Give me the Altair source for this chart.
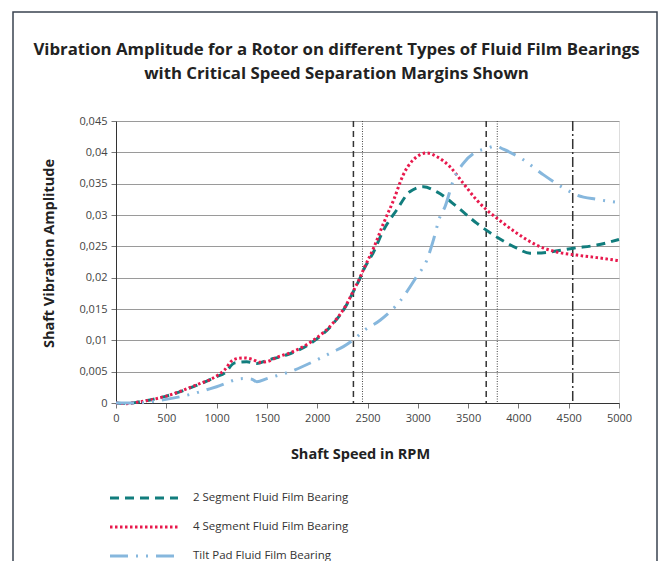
import altair as alt
import pandas as pd

series_names = ["2 Segment  Fluid Film Bearing", "4 Segment Fluid Film Bearing", "Tilt Pad Fluid Film Bearing"]
series_colors = ["#117d7d", "#e8194d", "#86b7dd"]

rpm_2seg = [0, 100, 200, 500, 800, 1000, 1080, 1180, 1300, 1400, 1500, 1700, 1960, 2160, 2290, 2360, 2425, 2460, 2560, 2660, 2790, 2920, 3055, 3190, 3390, 3585, 3785, 3985, 4115, 4315, 4545, 4780, 5000]
amp_2seg = [0, -0.0001, 0.0001, 0.0011, 0.0028, 0.0042, 0.0048, 0.0064, 0.0066, 0.0063, 0.0068, 0.0077, 0.0098, 0.0127, 0.0156, 0.0178, 0.0199, 0.0212, 0.0241, 0.0276, 0.0308, 0.0337, 0.0345, 0.0337, 0.0313, 0.0287, 0.0265, 0.0247, 0.0239, 0.0241, 0.0247, 0.0252, 0.0261]

rpm_4seg = [0, 100, 200, 500, 800, 1000, 1080, 1165, 1265, 1350, 1430, 1500, 1600, 1760, 1960, 2160, 2290, 2360, 2425, 2460, 2560, 2660, 2760, 2855, 2955, 3090, 3190, 3320, 3450, 3585, 3685, 3785, 3985, 4180, 4380, 4580, 4780, 5000]
amp_4seg = [0, -0.0001, 0.0001, 0.0011, 0.0029, 0.0043, 0.0053, 0.0069, 0.0072, 0.0070, 0.0065, 0.0066, 0.0073, 0.0082, 0.0100, 0.0128, 0.0157, 0.0179, 0.0200, 0.0213, 0.0247, 0.0287, 0.0324, 0.0364, 0.0388, 0.0399, 0.0393, 0.0377, 0.0351, 0.0324, 0.0308, 0.0295, 0.0271, 0.0252, 0.0241, 0.0236, 0.0232, 0.0227]

rpm_tilt = [0, 200, 470, 770, 1000, 1265, 1350, 1400, 1500, 1730, 1960, 2160, 2260, 2390, 2460, 2625, 2825, 2990, 3090, 3155, 3220, 3270, 3355, 3450, 3585, 3685, 3770, 3850, 4050, 4250, 4450, 4580, 4780, 5000]
amp_tilt = [0, 0, 0.0005, 0.0015, 0.0026, 0.0039, 0.0038, 0.0034, 0.0039, 0.0050, 0.0066, 0.0082, 0.0090, 0.0105, 0.0115, 0.0132, 0.0163, 0.0202, 0.0228, 0.0260, 0.0297, 0.0313, 0.0356, 0.0382, 0.0401, 0.0406, 0.0410, 0.0405, 0.0388, 0.0364, 0.0343, 0.0332, 0.0325, 0.0320]

margin_dashed = [2360, 3680]
margin_dotted = [2450, 3790]
margin_dashdot = [4540]

x_ticks = [0, 500, 1000, 1500, 2000, 2500, 3000, 3500, 4000, 4500, 5000]
y_ticks = [0, 0.005, 0.01, 0.015, 0.02, 0.025, 0.03, 0.035, 0.04, 0.045]

rows = []
for name, xs, ys in [(series_names[0], rpm_2seg, amp_2seg), (series_names[1], rpm_4seg, amp_4seg), (series_names[2], rpm_tilt, amp_tilt)]:
    for x, y in zip(xs, ys):
        rows.append({"rpm": x, "amp": y, "series": name})
df = pd.DataFrame(rows)
legend_df = pd.DataFrame({"series": series_names, "idx": list(range(len(series_names)))})

FONT = "Open Sans"

xscale = alt.Scale(domain=[0, 5000], nice=False, zero=False)
yscale = alt.Scale(domain=[0, 0.045], nice=False)
color_scale = alt.Scale(domain=series_names, range=series_colors)
dash_scale = alt.Scale(domain=series_names, range=[[9, 6], [2.5, 2.5], [18, 8, 2, 8, 2, 8]])
legend_y_scale = alt.Scale(domain=[0, 2], range=[377, 435])

xaxis = alt.Axis(values=x_ticks, format="d", title="Shaft Speed in RPM", grid=False, tickSize=5, tickColor="#777",
                 domainColor="#333", labelFontSize=11, labelColor="#444", labelFont=FONT, labelFlush=False,
                 titleFont=FONT, titleFontSize=14.5, titleFontWeight="bold", titleColor="#222",
                 titlePadding=24, labelPadding=4, titleX=244)
yaxis = alt.Axis(values=y_ticks, title="Shaft Vibration Amplitude", grid=True, gridColor="#9a9a9a",
                 gridWidth=1.2, tickSize=5, tickColor="#777", domainColor="#333",
                 labelExpr="replace(format(datum.value, '.3~f'), '.', ',')",
                 labelFontSize=11, labelColor="#444", labelFont=FONT,
                 titleFont=FONT, titleFontSize=14.5, titleFontWeight="bold", titleColor="#222",
                 titlePadding=22, labelPadding=4, titleY=132)

frame = alt.Chart(pd.DataFrame({"f": [0]})).mark_rect(
    fill=None, stroke="#3a4350", strokeWidth=1.5, clip=False
).encode(x=alt.value(-103), x2=alt.value(541), y=alt.value(-109), y2=alt.value(600))

lines = alt.Chart(df).mark_line(interpolate="monotone", strokeWidth=3).encode(
    x=alt.X("rpm:Q", scale=xscale, axis=xaxis),
    y=alt.Y("amp:Q", scale=yscale, axis=yaxis),
    color=alt.Color("series:N", scale=color_scale, legend=None),
    strokeDash=alt.StrokeDash("series:N", scale=dash_scale, legend=None),
    order=alt.Order("rpm:Q"),
)

vd = alt.Chart(pd.DataFrame({"x": margin_dashed})).mark_rule(color="#333", strokeWidth=1.5, strokeDash=[6, 4]).encode(
    x=alt.X("x:Q", scale=xscale))
vdot = alt.Chart(pd.DataFrame({"x": margin_dotted})).mark_rule(color="#444", strokeWidth=1, strokeDash=[1, 1.5]).encode(
    x=alt.X("x:Q", scale=xscale))
vdd = alt.Chart(pd.DataFrame({"x": margin_dashdot})).mark_rule(color="#333", strokeWidth=1.5, strokeDash=[10, 3, 2, 3]).encode(
    x=alt.X("x:Q", scale=xscale))

plot = alt.layer(frame, vd, vdot, vdd, lines)

leg_sym = alt.Chart(legend_df).mark_rule(strokeWidth=3, clip=False).encode(
    x=alt.value(-6), x2=alt.value(62),
    y=alt.Y("idx:Q", scale=legend_y_scale, axis=None),
    color=alt.Color("series:N", scale=color_scale, legend=None),
    strokeDash=alt.StrokeDash("series:N", scale=dash_scale, legend=None),
)
leg_txt = alt.Chart(legend_df).mark_text(align="left", baseline="middle", font=FONT, fontSize=11.5,
                                         color="#333", clip=False).encode(
    x=alt.value(77),
    y=alt.Y("idx:Q", scale=legend_y_scale, axis=None),
    text="series:N",
)
legend = alt.layer(leg_sym, leg_txt)

chart = alt.layer(plot, legend).resolve_scale(y="independent").properties(
    width=503, height=282,
    title=alt.TitleParams(
        ["Vibration Amplitude for a Rotor on different Types of Fluid Film Bearings",
         "with Critical Speed Separation Margins Shown"],
        anchor="middle", dx=-31, offset=-72, font=FONT, fontSize=16.8, fontWeight="bold",
        color="#222", lineHeight=24),
    padding={"left": 108, "top": 113, "right": 40, "bottom": 158},
    autosize=alt.AutoSizeParams(type="none"),
).configure_view(fill="#e6e9ec", stroke="#333", strokeWidth=1.5).configure(background="white")

chart.save("out.html", embed_options={"renderer": "svg", "actions": False})
